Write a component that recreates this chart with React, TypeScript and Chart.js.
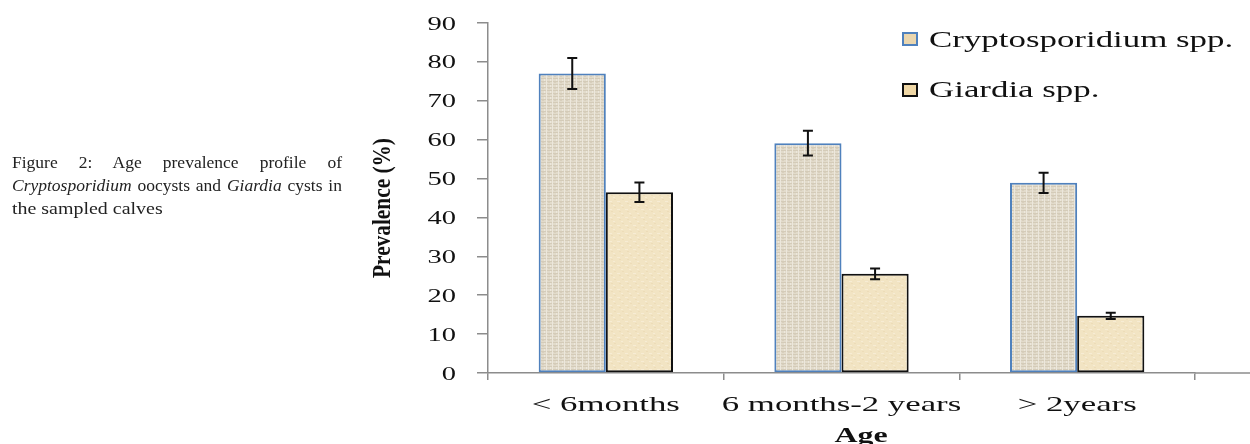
import React, { useEffect, useRef } from "react";
import { Chart, registerables } from "chart.js";

Chart.register(...registerables);

const categories = ["< 6months", "6 months-2 years", "> 2years"];
const seriesNames = ["Cryptosporidium spp.", "Giardia spp."];
const cryptoValues = [77, 59.1, 48.9];
const cryptoErrors = [4, 3.2, 2.6];
const giardiaValues = [46.5, 25.5, 14.7];
const giardiaErrors = [2.5, 1.4, 0.8];
const yMin = 0;
const yMax = 90;
const yStep = 10;
const xTitle = "Age";
const yTitle = "Prevalence (%)";

const SERIF = '"Liberation Serif", "Times New Roman", serif';

function makeCryptoPattern(ctx: CanvasRenderingContext2D) {
  const c = document.createElement("canvas");
  c.width = 6;
  c.height = 6;
  const g = c.getContext("2d")!;
  g.fillStyle = "#e2dbcb";
  g.fillRect(0, 0, 6, 6);
  g.fillStyle = "#d4cbb8";
  g.fillRect(0, 0, 6, 1);
  g.fillRect(0, 3, 6, 1);
  g.fillStyle = "#ece7dc";
  g.fillRect(0, 0, 1, 6);
  g.fillRect(4, 1, 1, 2);
  g.fillStyle = "#d8cfbd";
  g.fillRect(2, 4, 2, 1);
  return ctx.createPattern(c, "repeat")!;
}

function makeGiardiaPattern(ctx: CanvasRenderingContext2D) {
  const c = document.createElement("canvas");
  c.width = 8;
  c.height = 8;
  const g = c.getContext("2d")!;
  g.fillStyle = "#f2e4c3";
  g.fillRect(0, 0, 8, 8);
  g.fillStyle = "#f7ecd4";
  g.fillRect(1, 1, 3, 1);
  g.fillRect(5, 5, 2, 1);
  g.fillStyle = "#eddcb8";
  g.fillRect(3, 3, 2, 1);
  g.fillRect(6, 7, 2, 1);
  return ctx.createPattern(c, "repeat")!;
}

function wideText(
  ctx: CanvasRenderingContext2D,
  text: string,
  x: number,
  y: number,
  font: string,
  sx: number,
  align: "left" | "center" | "right"
) {
  ctx.save();
  ctx.font = font;
  ctx.textBaseline = "alphabetic";
  ctx.textAlign = "left";
  const w = ctx.measureText(text).width * sx;
  const left = align === "center" ? x - w / 2 : align === "right" ? x - w : x;
  ctx.translate(left, y);
  ctx.scale(sx, 1);
  ctx.fillStyle = "#111";
  ctx.fillText(text, 0, 0);
  ctx.restore();
}

const errors = [cryptoErrors, giardiaErrors];

const decorPlugin = {
  id: "decor",
  afterDatasetsDraw(chart: any) {
    const ctx: CanvasRenderingContext2D = chart.ctx;
    const yScale = chart.scales.y;
    chart.data.datasets.forEach((ds: any, i: number) => {
      const meta = chart.getDatasetMeta(i);
      meta.data.forEach((bar: any, j: number) => {
        const v = ds.data[j];
        const e = errors[i][j];
        const yTop = yScale.getPixelForValue(v + e);
        const yBot = yScale.getPixelForValue(v - e);
        const x = bar.x;
        ctx.save();
        ctx.strokeStyle = "#111";
        ctx.lineWidth = 2;
        ctx.beginPath();
        ctx.moveTo(x, yTop);
        ctx.lineTo(x, yBot);
        ctx.moveTo(x - 5, yTop);
        ctx.lineTo(x + 5, yTop);
        ctx.moveTo(x - 5, yBot);
        ctx.lineTo(x + 5, yBot);
        ctx.stroke();
        ctx.restore();
      });
    });
  },
  afterDraw(chart: any) {
    const ctx: CanvasRenderingContext2D = chart.ctx;
    const { chartArea } = chart;
    const xScale = chart.scales.x;
    const yScale = chart.scales.y;
    ctx.save();
    ctx.strokeStyle = "#8c8c8c";
    ctx.lineWidth = 1.5;
    ctx.beginPath();
    ctx.moveTo(chartArea.right, chartArea.bottom);
    ctx.lineTo(chart.width, chartArea.bottom);
    ctx.stroke();
    ctx.restore();
    yScale.ticks.forEach((t: any) => {
      const py = yScale.getPixelForValue(t.value);
      wideText(ctx, String(t.value), 456, py + 6.5, `19px ${SERIF}`, 1.5, "right");
    });
    categories.forEach((c, i) => {
      const px = xScale.getPixelForValue(i);
      wideText(ctx, c, px, 411, `22px ${SERIF}`, 1.58, "center");
    });
    wideText(ctx, xTitle, 861, 442, `bold 22px ${SERIF}`, 1.45, "center");
    ctx.save();
    ctx.translate(390, 208);
    ctx.rotate(-Math.PI / 2);
    ctx.scale(0.82, 1);
    ctx.font = `bold 26px ${SERIF}`;
    ctx.textAlign = "center";
    ctx.textBaseline = "alphabetic";
    ctx.fillStyle = "#111";
    ctx.fillText(yTitle, 0, 0);
    ctx.restore();
    const items = [
      { y: 33, border: "#4f81bd", fill: "#ead6ae", label: chart.data.datasets[0].label, base: 47 },
      { y: 84, border: "#111", fill: "#f0d8a6", label: chart.data.datasets[1].label, base: 97 },
    ];
    items.forEach((it) => {
      ctx.save();
      ctx.fillStyle = it.fill;
      ctx.fillRect(903, it.y, 14, 12);
      ctx.strokeStyle = it.border;
      ctx.lineWidth = 2;
      ctx.strokeRect(903, it.y, 14, 12);
      ctx.restore();
      wideText(ctx, it.label, 929, it.base, `22.5px ${SERIF}`, 1.55, "left");
    });
  },
};

export default function App() {
  const ref = useRef<HTMLCanvasElement | null>(null);
  useEffect(() => {
    const canvas = ref.current!;
    const ctx = canvas.getContext("2d")!;
    const chart = new Chart(ctx, {
      type: "bar",
      data: {
        labels: categories,
        datasets: [
          {
            label: seriesNames[0],
            data: cryptoValues,
            backgroundColor: makeCryptoPattern(ctx) as any,
            borderColor: "#4f81bd",
            borderWidth: 2,
            borderSkipped: false,
          },
          {
            label: seriesNames[1],
            data: giardiaValues,
            backgroundColor: makeGiardiaPattern(ctx) as any,
            borderColor: "#111111",
            borderWidth: 2,
            borderSkipped: false,
          },
        ],
      },
      options: {
        responsive: false,
        animation: false,
        events: [],
        layout: { padding: { left: 477, right: 55, top: 23, bottom: 64 } },
        datasets: { bar: { categoryPercentage: 0.57, barPercentage: 1 } },
        plugins: { legend: { display: false }, tooltip: { enabled: false } },
        scales: {
          x: {
            type: "category",
            offset: true,
            grid: {
              display: true,
              offset: true,
              drawOnChartArea: false,
              drawTicks: true,
              tickLength: 7,
              color: "#8c8c8c",
              lineWidth: 1.5,
            },
            border: { display: true, color: "#8c8c8c", width: 1.5 },
            ticks: { display: false },
          },
          y: {
            min: yMin,
            max: yMax,
            ticks: { display: false, stepSize: yStep },
            grid: {
              display: true,
              drawOnChartArea: false,
              drawTicks: true,
              tickLength: 11,
              color: "#8c8c8c",
              lineWidth: 1.5,
            },
            border: { display: true, color: "#8c8c8c", width: 1.5 },
          },
        },
      },
      plugins: [decorPlugin],
    });
    return () => chart.destroy();
  }, []);

  const capStyle: React.CSSProperties = {
    position: "absolute",
    left: 12,
    top: 151,
    width: 330,
    fontFamily: SERIF,
    fontSize: 17.5,
    lineHeight: "23px",
    color: "#222",
  };
  const justLine: React.CSSProperties = { textAlign: "justify", textAlignLast: "justify", whiteSpace: "nowrap" };

  return (
    <div style={{ position: "absolute", left: 0, top: 0, width: 1250, height: 444, background: "#fff" }}>
      <canvas ref={ref} width={1250} height={444} style={{ position: "absolute", left: 0, top: 0 }} />
      <div style={capStyle}>
        <div style={justLine}>Figure 2: Age prevalence profile of</div>
        <div style={justLine}>
          <i>Cryptosporidium</i> oocysts and <i>Giardia</i> cysts in
        </div>
        <div style={{ transform: "scaleX(1.14)", transformOrigin: "left top" }}>the sampled calves</div>
      </div>
    </div>
  );
}
